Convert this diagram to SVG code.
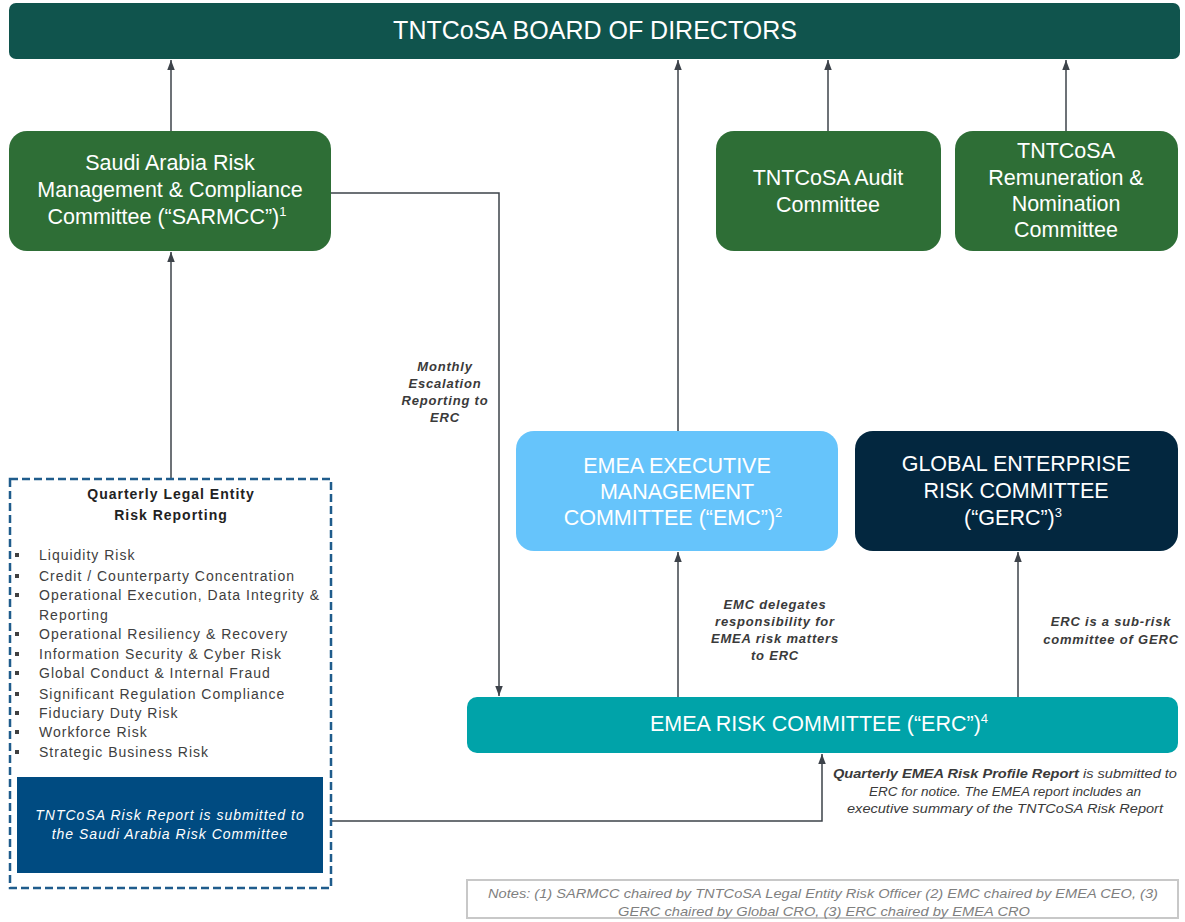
<svg xmlns="http://www.w3.org/2000/svg" width="1185" height="922" viewBox="0 0 1185 922">
<style>
  .node-t { font-family: "Liberation Sans", Arial, sans-serif; font-size: 21.5px; fill: #ffffff; text-anchor: middle; }
  .sup { font-size: 13px; }
  .conn { fill: none; stroke: #3d434a; stroke-width: 1.5; }
  .lbl { font-family: "Liberation Sans", Arial, sans-serif; font-size: 13px; font-weight: bold; font-style: italic; fill: #3a3a3a; text-anchor: middle; letter-spacing: 0.8px; }
  .blt { font-family: "Liberation Sans", Arial, sans-serif; font-size: 14px; fill: #404040; letter-spacing: 1px; }
  .ttl { font-family: "Liberation Sans", Arial, sans-serif; font-size: 14px; font-weight: bold; fill: #222222; text-anchor: middle; letter-spacing: 1px; }
  .rep { font-family: "Liberation Sans", Arial, sans-serif; font-size: 14px; font-style: italic; fill: #ffffff; text-anchor: middle; letter-spacing: 1px; }
  .q { font-family: "Liberation Sans", Arial, sans-serif; font-size: 13px; font-style: italic; fill: #3a3a3a; text-anchor: middle; }
  .note { font-family: "Liberation Sans", Arial, sans-serif; font-size: 13px; font-style: italic; fill: #7f7f7f; text-anchor: middle; }
  .bsq { fill: #404040; }
</style>
<defs>
  <marker id="ah" markerWidth="10" markerHeight="8" refX="10" refY="3.75" orient="auto" markerUnits="userSpaceOnUse">
    <path d="M0,0 L10,3.75 L0,7.5 z" fill="#3d434a"/>
  </marker>
</defs>
<rect width="1185" height="922" fill="#ffffff"/>

<g id="connectors">
  <path class="conn" d="M171 131 V60" marker-end="url(#ah)"/>
  <path class="conn" d="M171 478 V252" marker-end="url(#ah)"/>
  <path class="conn" d="M331 193 H499 V696" marker-end="url(#ah)"/>
  <path class="conn" d="M678 431 V60" marker-end="url(#ah)"/>
  <path class="conn" d="M828 131 V60" marker-end="url(#ah)"/>
  <path class="conn" d="M1066 131 V60" marker-end="url(#ah)"/>
  <path class="conn" d="M678 697 V552" marker-end="url(#ah)"/>
  <path class="conn" d="M1018 697 V552" marker-end="url(#ah)"/>
  <path class="conn" d="M331 821 H822 V754" marker-end="url(#ah)"/>
</g>

<g id="board">
  <rect x="9" y="3" width="1171" height="56" rx="7" fill="#10544d"/>
  <text x="595" y="39" class="node-t" style="font-size:25px">TNTCoSA BOARD OF DIRECTORS</text>
</g>

<g id="sarmcc">
  <rect x="9" y="131" width="322" height="120" rx="18" fill="#2e6e36"/>
  <text class="node-t"><tspan x="170" y="170">Saudi Arabia Risk</tspan><tspan x="170" y="197">Management &amp; Compliance</tspan><tspan x="167" y="224">Committee (“SARMCC”)<tspan class="sup" dy="-8">1</tspan></tspan></text>
</g>

<g id="audit">
  <rect x="716" y="131" width="225" height="120" rx="18" fill="#2e6e36"/>
  <text class="node-t"><tspan x="828" y="185">TNTCoSA Audit</tspan><tspan x="828" y="212">Committee</tspan></text>
</g>

<g id="remuneration">
  <rect x="955" y="131" width="223" height="120" rx="18" fill="#2e6e36"/>
  <text class="node-t"><tspan x="1066" y="158">TNTCoSA</tspan><tspan x="1066" y="185">Remuneration &amp;</tspan><tspan x="1066" y="211">Nomination</tspan><tspan x="1066" y="237">Committee</tspan></text>
</g>

<g id="emc">
  <rect x="516" y="431" width="322" height="120" rx="18" fill="#66c4fb"/>
  <text class="node-t"><tspan x="677" y="473">EMEA EXECUTIVE</tspan><tspan x="677" y="499">MANAGEMENT</tspan><tspan x="673" y="525">COMMITTEE (“EMC”)<tspan class="sup" dy="-8">2</tspan></tspan></text>
</g>

<g id="gerc">
  <rect x="855" y="431" width="323" height="120" rx="18" fill="#03273f"/>
  <text class="node-t"><tspan x="1016" y="471">GLOBAL ENTERPRISE</tspan><tspan x="1016" y="498">RISK COMMITTEE</tspan><tspan x="1013" y="525">(“GERC”)<tspan class="sup" dy="-8">3</tspan></tspan></text>
</g>

<g id="erc">
  <rect x="467" y="697" width="711" height="56" rx="10" fill="#00a3a9"/>
  <text class="node-t" x="819" y="731">EMEA RISK COMMITTEE (“ERC”)<tspan class="sup" dy="-8">4</tspan></text>
</g>

<g id="reporting-box">
  <rect x="10" y="479" width="321" height="409" fill="#ffffff" stroke="#1f5c8c" stroke-width="2.5" stroke-dasharray="8,4"/>
  <text class="ttl"><tspan x="171" y="499">Quarterly Legal Entity</tspan><tspan x="171" y="520">Risk Reporting</tspan></text>
  <g class="bsq">
    <rect x="15" y="553" width="4" height="4"/>
    <rect x="15" y="574" width="4" height="4"/>
    <rect x="15" y="593" width="4" height="4"/>
    <rect x="15" y="632" width="4" height="4"/>
    <rect x="15" y="652" width="4" height="4"/>
    <rect x="15" y="671" width="4" height="4"/>
    <rect x="15" y="692" width="4" height="4"/>
    <rect x="15" y="711" width="4" height="4"/>
    <rect x="15" y="730" width="4" height="4"/>
    <rect x="15" y="750" width="4" height="4"/>
  </g>
  <text class="blt">
    <tspan x="39" y="560">Liquidity Risk</tspan>
    <tspan x="39" y="581">Credit / Counterparty Concentration</tspan>
    <tspan x="39" y="600">Operational Execution, Data Integrity &amp;</tspan>
    <tspan x="39" y="620">Reporting</tspan>
    <tspan x="39" y="639">Operational Resiliency &amp; Recovery</tspan>
    <tspan x="39" y="659">Information Security &amp; Cyber Risk</tspan>
    <tspan x="39" y="678">Global Conduct &amp; Internal Fraud</tspan>
    <tspan x="39" y="699">Significant Regulation Compliance</tspan>
    <tspan x="39" y="718">Fiduciary Duty Risk</tspan>
    <tspan x="39" y="737">Workforce Risk</tspan>
    <tspan x="39" y="757">Strategic Business Risk</tspan>
  </text>
</g>

<g id="risk-report">
  <rect x="17" y="777" width="306" height="96" fill="#004b81"/>
  <text class="rep"><tspan x="170" y="820">TNTCoSA Risk Report is submitted to</tspan><tspan x="170" y="839">the Saudi Arabia Risk Committee</tspan></text>
</g>

<g id="labels">
  <text class="lbl"><tspan x="445" y="371">Monthly</tspan><tspan x="445" y="388">Escalation</tspan><tspan x="445" y="405">Reporting to</tspan><tspan x="445" y="422">ERC</tspan></text>
  <text class="lbl"><tspan x="775" y="609">EMC delegates</tspan><tspan x="775" y="626">responsibility for</tspan><tspan x="775" y="643">EMEA risk matters</tspan><tspan x="775" y="660">to ERC</tspan></text>
  <text class="lbl"><tspan x="1111" y="626">ERC is a sub-risk</tspan><tspan x="1111" y="644">committee of GERC</tspan></text>
  <text class="q" x="1005" y="778" textLength="344" lengthAdjust="spacingAndGlyphs"><tspan font-weight="bold">Quarterly EMEA Risk Profile Report</tspan> is submitted to</text>
  <text class="q" x="1005" y="796" textLength="272" lengthAdjust="spacingAndGlyphs">ERC for notice. The EMEA report includes an</text>
  <text class="q" x="1005" y="813" textLength="316" lengthAdjust="spacingAndGlyphs">executive summary of the TNTCoSA Risk Report</text>
</g>

<g id="notes">
  <rect x="467" y="880" width="711" height="38" fill="#ffffff" stroke="#c8c8c8" stroke-width="2"/>
  <text class="note" x="823" y="898" textLength="670" lengthAdjust="spacingAndGlyphs">Notes: (1) SARMCC chaired by TNTCoSA Legal Entity Risk Officer (2) EMC chaired by EMEA CEO, (3)</text>
  <text class="note" x="824" y="916" textLength="412" lengthAdjust="spacingAndGlyphs">GERC chaired by Global CRO, (3) ERC chaired by EMEA CRO</text>
</g>
</svg>
